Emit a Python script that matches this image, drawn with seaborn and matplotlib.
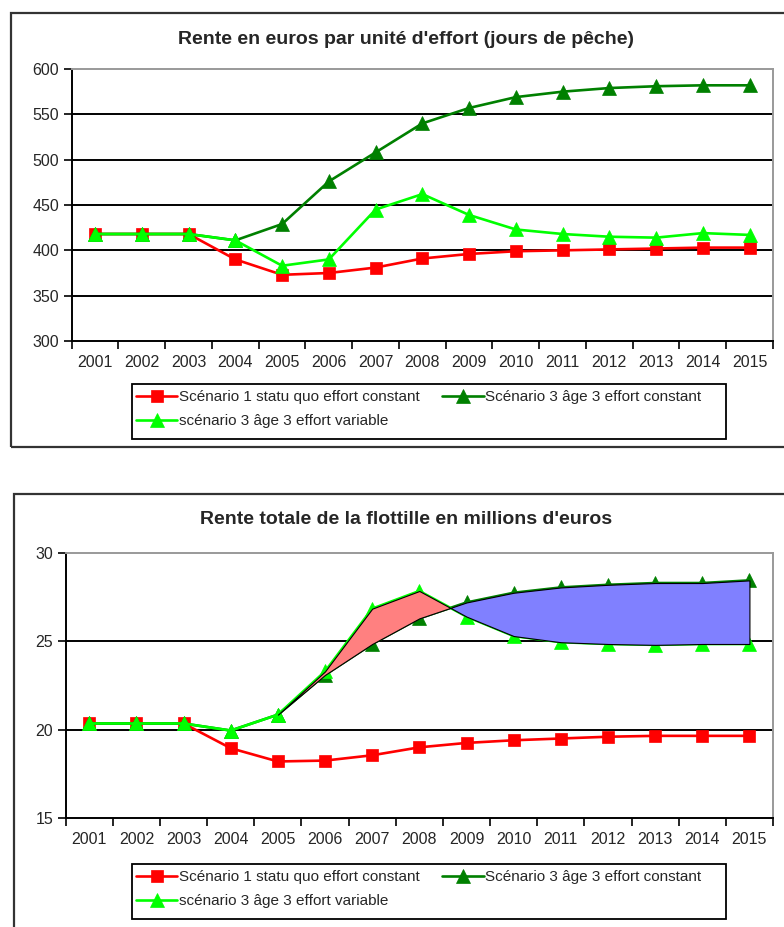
import numpy as np
import pandas as pd
import seaborn as sns
import matplotlib.pyplot as plt
from matplotlib.patches import Rectangle
from matplotlib.ticker import MultipleLocator, FixedLocator

annees = list(range(2001, 2016))

# Rente en euros par jour de peche
rente_jour_s1 = [418, 418, 418, 390, 373, 375, 381, 391, 396, 399, 400, 401, 402, 403, 403]
rente_jour_s3_cst = [418, 418, 418, 411, 429, 476, 508, 540, 557, 569, 575, 579, 581, 582, 582]
rente_jour_s3_var = [418, 418, 418, 411, 383, 390, 445, 462, 439, 423, 418, 415, 414, 419, 417]

# Rente totale de la flottille (millions d'euros)
rente_tot_s1 = [20.35, 20.35, 20.35, 18.95, 18.2, 18.25, 18.55, 19.0, 19.25, 19.4, 19.5, 19.6, 19.65, 19.65, 19.65]
rente_tot_s3_cst = [20.35, 20.35, 20.35, 19.95, 20.85, 23.1, 24.85, 26.3, 27.2, 27.75, 28.05, 28.2, 28.3, 28.3, 28.45]
rente_tot_s3_var = [20.35, 20.35, 20.35, 19.95, 20.85, 23.3, 26.85, 27.85, 26.4, 25.3, 24.95, 24.85, 24.8, 24.85, 24.85]

noms = ["Scénario 1 statu quo effort constant",
        "Scénario 3 âge 3 effort constant",
        "scénario 3 âge 3 effort variable"]
couleurs = ["#ff0000", "#008000", "#00ff00"]
marqueurs = ["s", "^", "^"]
tailles = [8.5, 10.5, 10.5]

sns.set_style("white")
plt.rcParams["font.family"] = ["Liberation Sans", "DejaVu Sans"]

W, H = 784, 927
fig = plt.figure(figsize=(W / 100, H / 100), dpi=100)


def fx(px):
    return px / W


def fy(py):
    return 1 - py / H


def panneau(rect, series, titre, ylim, pas, titre_y, legende_y, cadre, zones=False):
    ax = fig.add_axes(rect)
    pos = np.arange(len(annees))
    df = pd.DataFrame({"pos": pos, "annee": annees})
    handles = []
    for vals, nom, col, mk, ms in zip(series, noms, couleurs, marqueurs, tailles):
        df[nom] = vals
        sns.lineplot(data=df, x="pos", y=nom, color=col, marker=mk, markersize=ms,
                     markeredgecolor=col, markeredgewidth=0.5, lw=1.9,
                     label=nom, legend=False, ax=ax)
        handles.append(ax.lines[-1])

    if zones:
        # zones entre effort constant et effort variable
        cst = df[noms[1]].to_numpy()
        var = df[noms[2]].to_numpy()
        ax.fill_between(pos, cst, var, where=(pos >= 5) & (var >= cst), interpolate=True,
                        facecolor="#ff8080", edgecolor="black", lw=0.8, zorder=2.6)
        ax.fill_between(pos, cst, var, where=(pos >= 7) & (cst >= var), interpolate=True,
                        facecolor="#8080ff", edgecolor="black", lw=0.8, zorder=2.6)

    ax.set_xlim(-0.5, len(annees) - 0.5)
    ax.set_ylim(*ylim)
    ax.yaxis.set_major_locator(MultipleLocator(pas))
    ax.set_xticks(pos)
    ax.set_xticklabels([str(a) for a in annees])
    ax.xaxis.set_minor_locator(FixedLocator(np.arange(-0.5, len(annees), 1)))
    ax.tick_params(axis="x", which="major", length=0, pad=10, labelsize=11.5)
    ax.tick_params(axis="x", which="minor", bottom=True, length=6, width=1.2,
                   color="black", direction="out")
    ax.tick_params(axis="y", left=True, length=6, width=1.2, color="black",
                   direction="out", labelsize=11.5, pad=3)
    ax.set_xlabel("")
    ax.set_ylabel("")

    ax.set_axisbelow(True)
    ax.grid(axis="y", color="black", lw=1.4)
    ax.grid(axis="x", visible=False)
    fig.canvas.draw()
    for gl, t in zip(ax.get_ygridlines(), ax.get_yticks()):
        if t >= ylim[1] or t <= ylim[0]:
            gl.set_visible(False)

    for s in ["left", "bottom"]:
        ax.spines[s].set_color("black")
        ax.spines[s].set_linewidth(1.4)
    for s in ["top", "right"]:
        ax.spines[s].set_color("#999999")
        ax.spines[s].set_linewidth(1.4)

    fig.text(fx(406), fy(titre_y), titre, ha="center", va="center",
             fontsize=14, fontweight="bold")

    # legende sur deux colonnes, rangee par lignes comme dans Excel
    h = [handles[0], handles[2], handles[1]]
    lab = [noms[0], noms[2], noms[1]]
    fig.legend(h, lab, ncol=2, loc="upper left",
               bbox_to_anchor=(fx(136), fy(legende_y + 6)),
               frameon=False, fontsize=11, handlelength=2.7, handletextpad=0.1,
               columnspacing=1.5, labelspacing=0.65, borderpad=0, borderaxespad=0)
    fig.patches.append(Rectangle((fx(132), fy(legende_y + 55)), fx(726 - 132), 55 / H,
                                 transform=fig.transFigure, fill=False,
                                 edgecolor="black", lw=1.3))
    x0, y0, y1 = cadre
    fig.patches.append(Rectangle((fx(x0), fy(y1)), 1.2, (y1 - y0) / H,
                                 transform=fig.transFigure, fill=False,
                                 edgecolor="#333333", lw=1.6, clip_on=False))
    return ax


panneau([fx(71.7), fy(341), fx(773 - 71.7), (341 - 69) / H],
        [rente_jour_s1, rente_jour_s3_cst, rente_jour_s3_var],
        "Rente en euros par unité d'effort (jours de pêche)",
        (300, 600), 50, 40, 384, (11, 13, 447))

panneau([fx(65.7), fy(818), fx(773 - 65.7), (818 - 553) / H],
        [rente_tot_s1, rente_tot_s3_cst, rente_tot_s3_var],
        "Rente totale de la flottille en millions d'euros",
        (15, 30), 5, 520, 864, (14, 494, 960), zones=True)

fig.savefig("out.png", dpi=100)
